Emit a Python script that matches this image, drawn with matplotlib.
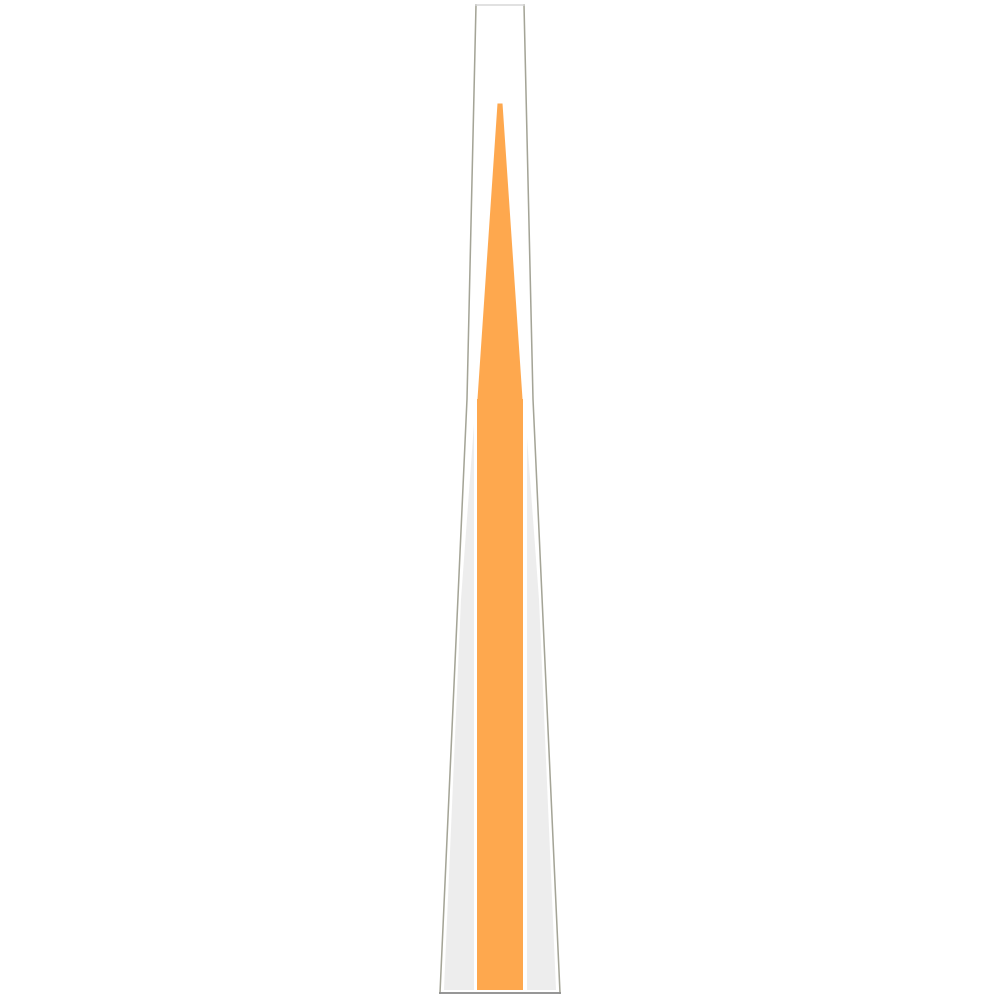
import numpy as np
import matplotlib.pyplot as plt

# value levels (0 = base, 100 = top of the gauge)
shell_levels = [0, 60, 100]
shell_half = [60, 33, 24]          # half width of the outline

band_levels = [0, 39.6, 57.4]
band_half = [56, 39, 26]           # grey background band

actual_value = 60                  # orange bar
target_value = 90                  # orange tip
bar_half = 23
tip_base_half = 22.5
tip_top_half = 2.5

orange = '#fea84e'
grey = '#ededed'
line_col = '#a4a496'

px_per_level = 9.85
pad = 3 / px_per_level


def side_poly(levels, half):
    left = [(-h, l) for l, h in zip(levels, half)]
    right = [(h, l) for l, h in zip(levels, half)]
    return left + right[::-1]


fig = plt.figure(figsize=(10, 10), dpi=100)
ax = fig.add_axes([0, 0, 1, 1])
ax.set_xlim(-500, 500)
ax.set_ylim(-10 / px_per_level, 990 / px_per_level)
ax.axis('off')

# grey band
ax.add_patch(plt.Polygon(side_poly(band_levels, band_half), closed=True,
                         facecolor=grey, edgecolor='none', zorder=1))

# white gap around the bar
ax.add_patch(plt.Rectangle((-bar_half - 3.5, 0), 2 * (bar_half + 3.5), actual_value,
                           facecolor='white', edgecolor='none', zorder=2))

# orange bar and tip
ax.add_patch(plt.Rectangle((-bar_half, 0), 2 * bar_half, actual_value,
                           facecolor=orange, edgecolor='none', zorder=3))
tip = [(-tip_base_half, actual_value), (-tip_top_half, target_value),
       (tip_top_half, target_value), (tip_base_half, actual_value)]
ax.add_patch(plt.Polygon(tip, closed=True, facecolor=orange,
                         edgecolor='none', zorder=3))

# outline
lv = np.array(shell_levels, dtype=float)
lv[0] -= pad
hw = np.array(shell_half, dtype=float)
ax.plot(-hw, lv, color=line_col, lw=1.1, zorder=4)
ax.plot(hw, lv, color=line_col, lw=1.1, zorder=4)
ax.plot([-hw[0], hw[0]], [lv[0], lv[0]], color='#8c8c8c', lw=1.3, zorder=4)
ax.plot([-hw[-1], hw[-1]], [lv[-1], lv[-1]], color='#d8d8d8', lw=1.1, zorder=4)

fig.savefig('out.png', dpi=100)
